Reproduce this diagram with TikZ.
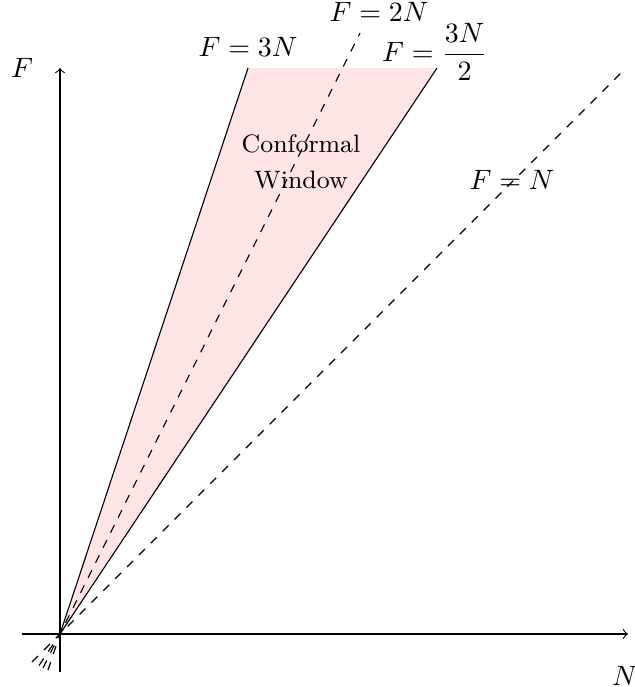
\documentclass[tikz,border=0pt]{standalone}
\usepackage{amsmath}
\begin{document}
\begin{tikzpicture}[x=0.357pt,y=-0.357pt,
  lbl/.style={inner sep=0pt},
  axis/.style={->,thin},
  bound/.style={thin},
  guide/.style={thin,dashed}]
\useasboundingbox (0,0) rectangle (635,687);
% points
\coordinate (O) at (60,634);
\coordinate (A3) at (248,68);
\coordinate (A15) at (437,68);
\coordinate (A2) at (360,33);
\coordinate (A1) at (626,68);
\coordinate (B1) at (32,662);
\coordinate (B15) at (39,665.5);
\coordinate (B2) at (43,668);
\coordinate (B3) at (48,670);
\coordinate (XL) at (22,634);
\coordinate (XR) at (628,634);
\coordinate (YB) at (60,672);
\coordinate (YT) at (60,68);
% window
\fill[red!10] (O) -- (A3) -- (A15) -- cycle;
% axes
\draw[axis] (XL) -- (XR);
\draw[axis] (YB) -- (YT);
% bounding lines
\draw[bound] (O) -- (A3);
\draw[bound] (O) -- (A15);
\draw[guide] (B3) -- (O);
\draw[guide] (B15) -- (O);
\draw[guide] (B2) -- (A2);
\draw[guide] (B1) -- (A1);
% labels
\node[lbl] (lF) at (22,68) {$F$};
\node[lbl] (lN) at (625,676) {$N$};
\node[lbl] (l3) at (248,47) {$F=3N$};
\node[lbl] (l2) at (379,12) {$F=2N$};
\node[lbl] (l15) at (435,52) {$F=\dfrac{3N}{2}$};
\node[lbl] (l1) at (512,180) {$F=N$};
\node[lbl,align=center,font=\small] (cw) at (301,162) {Conformal\\[2pt]Window};
\end{tikzpicture}
\end{document}
